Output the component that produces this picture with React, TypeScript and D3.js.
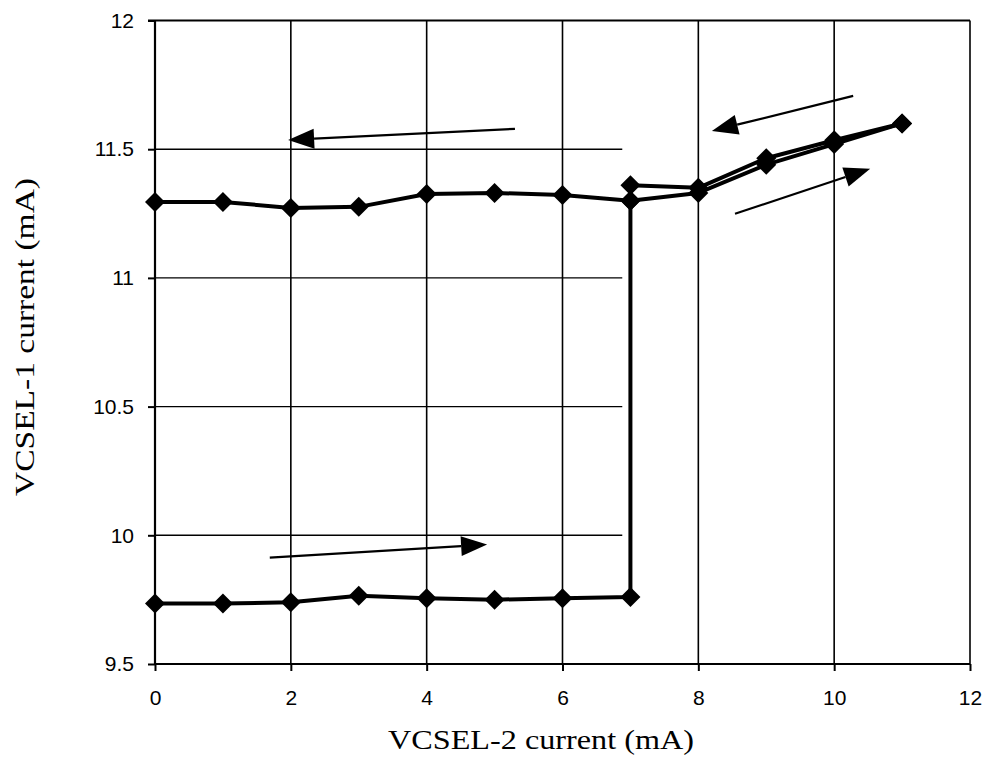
import React, { useEffect, useRef } from 'react';
import * as d3 from 'd3';

// forward sweep (VCSEL-2 increasing)
const forwardX = [0, 1, 2, 3, 4, 5, 6, 7, 7, 8, 9, 10, 11];
const forwardY = [9.735, 9.735, 9.74, 9.765, 9.755, 9.75, 9.755, 9.76, 11.3, 11.33, 11.44, 11.52, 11.6];

// backward sweep (VCSEL-2 decreasing)
const backwardX = [11, 10, 9, 8, 7, 7, 6, 5, 4, 3, 2, 1, 0];
const backwardY = [11.6, 11.535, 11.465, 11.35, 11.36, 11.3, 11.322, 11.33, 11.326, 11.276, 11.272, 11.295, 11.295];

const xTicks = [0, 2, 4, 6, 8, 10, 12];
const yTicks = [9.5, 10, 10.5, 11, 11.5, 12];
const hGridEnd = 6.88;

// direction arrows [x1, y1, x2, y2] in data units, tip at the second point
const arrows = [
  [5.3, 11.579, 1.96, 11.536],
  [10.28, 11.707, 8.2, 11.571],
  [8.54, 11.249, 10.53, 11.424],
  [1.69, 9.913, 4.89, 9.964],
];

const App = () => {
  const ref = useRef<SVGSVGElement>(null);

  useEffect(() => {
    const svg = d3.select(ref.current);
    svg.selectAll('*').remove();

    const x = d3.scaleLinear().domain([0, 12]).range([155, 970]);
    const y = d3.scaleLinear().domain([9.5, 12]).range([664, 20.5]);

    const g = svg.append('g');

    // vertical grid
    g.selectAll('.vgrid')
      .data(xTicks.filter(d => d > 0))
      .enter().append('line')
      .attr('x1', d => x(d)).attr('x2', d => x(d))
      .attr('y1', y(9.5)).attr('y2', y(12))
      .attr('stroke', '#000').attr('stroke-width', 1.6);

    // horizontal grid (stops short of the jump)
    g.selectAll('.hgrid')
      .data(yTicks.filter(d => d > 9.5 && d < 12))
      .enter().append('line')
      .attr('x1', x(0)).attr('x2', x(hGridEnd))
      .attr('y1', d => y(d)).attr('y2', d => y(d))
      .attr('stroke', '#000').attr('stroke-width', 1.4);

    // top frame line
    g.append('line')
      .attr('x1', x(0) - 7).attr('x2', x(12))
      .attr('y1', y(12)).attr('y2', y(12))
      .attr('stroke', '#000').attr('stroke-width', 2);

    // axes
    const xAxis = g.append('g')
      .attr('transform', `translate(0,${y(9.5)})`)
      .call(d3.axisBottom(x).tickValues(xTicks).tickSize(7).tickPadding(19).tickFormat(d3.format('d')));
    const yAxis = g.append('g')
      .attr('transform', `translate(${x(0)},0)`)
      .call(d3.axisLeft(y).tickValues(yTicks).tickSize(7).tickPadding(14).tickFormat(d => String(d)));

    [xAxis, yAxis].forEach(a => {
      a.select('.domain').attr('stroke', '#000').attr('stroke-width', 2.2);
      a.selectAll('.tick line').attr('stroke', '#000').attr('stroke-width', 2);
      a.selectAll('.tick text')
        .attr('fill', '#000')
        .style('font-family', '"Liberation Sans", Arial, sans-serif')
        .style('font-size', '21px');
    });
    xAxis.select('.domain').attr('d', `M${x(0)},0H${x(12)}`);
    yAxis.select('.domain').attr('d', `M0,${y(9.5)}V${y(12)}`);

    const drawSeries = (xs: number[], ys: number[]) => {
      const pts = xs.map((v, i) => [x(v), y(ys[i])] as [number, number]);
      g.append('path')
        .attr('d', d3.line()(pts))
        .attr('fill', 'none')
        .attr('stroke', '#000')
        .attr('stroke-width', 4)
        .attr('stroke-linejoin', 'round');
      g.selectAll(null)
        .data(pts)
        .enter().append('path')
        .attr('d', d3.symbol(d3.symbolSquare, 200)())
        .attr('transform', d => `translate(${d[0]},${d[1]}) rotate(45)`)
        .attr('fill', '#000');
    };
    drawSeries(forwardX, forwardY);
    drawSeries(backwardX, backwardY);

    // arrows
    arrows.forEach(a => {
      const x1 = x(a[0]), y1 = y(a[1]), x2 = x(a[2]), y2 = y(a[3]);
      const ang = Math.atan2(y2 - y1, x2 - x1);
      const len = 26, half = 10;
      const bx = x2 - len * Math.cos(ang), by = y2 - len * Math.sin(ang);
      g.append('line')
        .attr('x1', x1).attr('y1', y1).attr('x2', bx).attr('y2', by)
        .attr('stroke', '#000').attr('stroke-width', 2.2);
      const px = -Math.sin(ang), py = Math.cos(ang);
      g.append('path')
        .attr('d', `M${x2},${y2}L${bx + px * half},${by + py * half}L${bx - px * half},${by - py * half}Z`)
        .attr('fill', '#000');
    });

    // axis titles (the scanned type runs wide, so stretch to its measured length)
    svg.append('text')
      .attr('x', 541).attr('y', 749)
      .attr('text-anchor', 'middle')
      .attr('textLength', 306)
      .attr('lengthAdjust', 'spacingAndGlyphs')
      .style('font-family', '"Liberation Serif", "Times New Roman", serif')
      .style('font-size', '28px')
      .text('VCSEL-2 current (mA)');

    svg.append('text')
      .attr('transform', `translate(34,337) rotate(-90)`)
      .attr('text-anchor', 'middle')
      .attr('textLength', 318)
      .attr('lengthAdjust', 'spacingAndGlyphs')
      .style('font-family', '"Liberation Serif", "Times New Roman", serif')
      .style('font-size', '28px')
      .text('VCSEL-1 current (mA)');
  }, []);

  return (
    <svg ref={ref} width={988} height={770}
      style={{ position: 'absolute', left: 0, top: 0, background: '#fff' }} />
  );
};

export default App;
